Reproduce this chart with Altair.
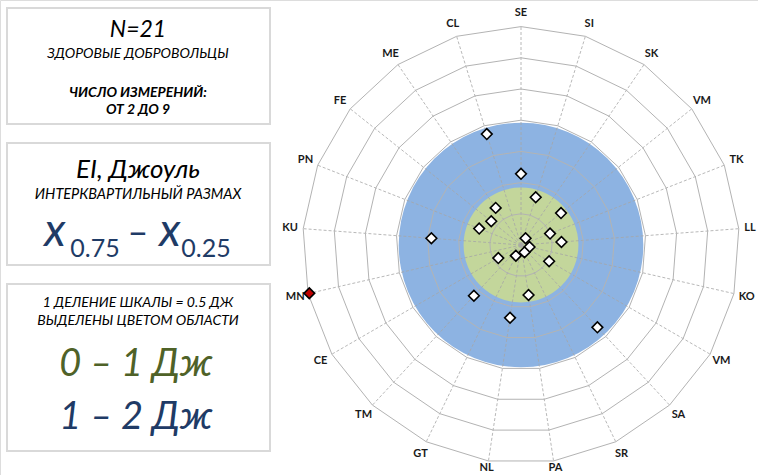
import altair as alt
import pandas as pd
import numpy as np

# ---------------- data ----------------
axis_labels = ["SE", "SI", "SK", "VM", "TK", "LL", "KO", "VM", "SA", "SR", "PA",
               "NL", "GT", "TM", "CE", "MN", "KU", "PN", "FE", "ME", "CL"]
iqr_values = [1.14, 0.80, 0.13, 0.82, 0.50, 0.65, 0.14, 0.52, 1.80, 0.13, 0.81,
              1.18, 0.19, 1.11, 0.42, 3.48, 1.44, 0.72, 0.61, 0.72, 1.86]
outlier = [False] * 15 + [True] + [False] * 5
ring_levels = [0.5, 1.0, 1.5, 2.0, 2.5, 3.0, 3.5]
band_names = ["1 – 2 Дж", "0 – 1 Дж"]
band_radius = [1.96, 0.92]
band_colors = ["#8db3e2", "#c3d69b"]

# ---------------- layout ----------------
W, H = 758, 475
CX, CY = 521, 245           # pixel centre of the radar
PX = 62.4                   # pixels per joule
RMAX = 3.5
LABEL_R = 3.71
N = len(axis_labels)

xs = alt.Scale(domain=[-CX / PX, (W - CX) / PX], nice=False, zero=False)
ys = alt.Scale(domain=[-(H - CY) / PX, CY / PX], nice=False, zero=False)
ang = [2 * np.pi * k / N for k in range(N)]

# rings (21-gons)
ring_rows = []
for r in ring_levels:
    for k in range(N + 1):
        a = ang[k % N]
        ring_rows.append({"ring": r, "k": k, "x": r * np.sin(a), "y": r * np.cos(a)})
rings_df = pd.DataFrame(ring_rows)

spokes_df = pd.DataFrame({
    "x0": [0.0] * N, "y0": [0.0] * N,
    "x1": [RMAX * np.sin(a) for a in ang],
    "y1": [RMAX * np.cos(a) for a in ang],
})
ymin_label = -(H - CY - 7) / PX   # keep bottom labels inside the canvas
xmax_label = (W - CX - 8) / PX
labels_df = pd.DataFrame({
    "label": axis_labels,
    "x": [min(LABEL_R * np.sin(a), xmax_label) for a in ang],
    "y": [max(LABEL_R * np.cos(a), ymin_label) for a in ang],
})
points_df = pd.DataFrame({
    "axis": axis_labels,
    "value": iqr_values,
    "outlier": outlier,
    "x": [v * np.sin(a) for v, a in zip(iqr_values, ang)],
    "y": [v * np.cos(a) for v, a in zip(iqr_values, ang)],
})

X = lambda f: alt.X(f, type="quantitative", scale=xs, axis=None)
Y = lambda f: alt.Y(f, type="quantitative", scale=ys, axis=None)
rscale = alt.Scale(type="linear", domain=[0, RMAX], range=[0, RMAX * PX], zero=True)

layers = []
for name, r, col in zip(band_names, band_radius, band_colors):
    bdf = pd.DataFrame({"band": [name], "r": [r], "cx": [0.0], "cy": [0.0]})
    layers.append(
        alt.Chart(bdf).mark_arc(theta=0, theta2=2 * np.pi, fill=col, stroke=None).encode(
            x=X("cx"), y=Y("cy"),
            radius=alt.Radius("r:Q", scale=rscale),
        )
    )

layers.append(
    alt.Chart(spokes_df).mark_rule(stroke="#a6a6a6", strokeWidth=0.8, strokeDash=[3, 2]).encode(
        x=X("x0"), y=Y("y0"), x2="x1:Q", y2="y1:Q"
    )
)
layers.append(
    alt.Chart(rings_df).mark_line(stroke="#b3b3b3", strokeWidth=1).encode(
        x=X("x"), y=Y("y"), detail="ring:N", order="k:Q"
    )
)
layers.append(
    alt.Chart(labels_df).mark_text(font="Lato", fontWeight="bold", fontSize=11,
                                   color="#1a1a1a", align="center", baseline="middle").encode(
        x=X("x"), y=Y("y"), text="label:N"
    )
)
layers.append(
    alt.Chart(points_df).mark_point(shape="diamond", filled=True, size=115, opacity=1,
                                    stroke="black", strokeWidth=1.6).encode(
        x=X("x"), y=Y("y"),
        fill=alt.Fill("outlier:N", scale=alt.Scale(domain=[False, True], range=["white", "#c00000"]),
                      legend=None),
        tooltip=["axis:N", "value:Q"],
    )
)

# ---------------- left text panels ----------------
one = pd.DataFrame({"a": [0]})
for (y0, y1) in [(8, 124), (143, 265), (284, 451)]:
    layers.append(
        alt.Chart(one).mark_rect(fill="white", stroke="#d9d9d9", strokeWidth=2).encode(
            x=alt.value(7), x2=alt.value(270), y=alt.value(y0), y2=alt.value(y1)
        )
    )


def txt(s, x, y, size, color="black", weight="normal", style="italic", align="center"):
    return alt.Chart(one).mark_text(font="Lato", fontSize=size, fontStyle=style, fontWeight=weight,
                                    color=color, align=align, baseline="middle").encode(
        x=alt.value(x), y=alt.value(y), text=alt.value(s)
    )


DARK_BLUE = "#1f3b66"
DARK_GREEN = "#4f6228"
layers += [
    txt("N=21", 138, 30, 23),
    txt("ЗДОРОВЫЕ ДОБРОВОЛЬЦЫ", 138, 54, 14),
    txt("ЧИСЛО ИЗМЕРЕНИЙ:", 138, 93, 14, weight="bold"),
    txt("ОТ 2 ДО 9", 138, 110, 14, weight="bold"),
    txt("EI, Джоуль", 138, 170, 26),
    txt("ИНТЕРКВАРТИЛЬНЫЙ РАЗМАХ", 138, 195, 14.5),
    txt("x", 55, 232, 46, color=DARK_BLUE),
    txt("0.75", 95, 249, 25, color=DARK_BLUE, style="normal"),
    txt("–", 138, 234, 36, color=DARK_BLUE, style="normal"),
    txt("x", 170, 232, 46, color=DARK_BLUE),
    txt("0.25", 206, 249, 25, color=DARK_BLUE, style="normal"),
    txt("1 ДЕЛЕНИЕ ШКАЛЫ = 0.5 ДЖ", 138, 303, 14),
    txt("ВЫДЕЛЕНЫ ЦВЕТОМ ОБЛАСТИ", 138, 321, 14),
    txt("0 – 1 Дж", 136, 365, 38, color=DARK_GREEN),
    txt("1 – 2 Дж", 136, 418, 38, color=DARK_BLUE),
]

chart = alt.layer(*layers).properties(
    width=W, height=H, padding=0, autosize=alt.AutoSizeParams(type="none")
).configure_view(stroke=None).configure(background="white")

chart.save("out.html", embed_options={"renderer": "svg", "actions": False})
